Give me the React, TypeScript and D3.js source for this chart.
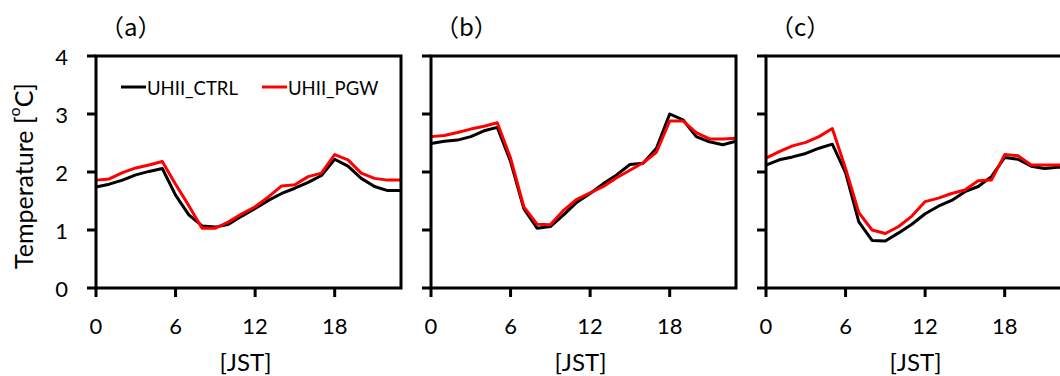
import React from 'react';
import * as d3 from 'd3';

// hourly UHI intensity (°C), JST 0..23
const hours = d3.range(0, 24);
const xTicks = [0, 6, 12, 18];
const yTicks = [0, 1, 2, 3, 4];

const ctrlA = [1.74, 1.79, 1.86, 1.95, 2.01, 2.06, 1.6, 1.26, 1.07, 1.05, 1.1, 1.24, 1.37, 1.51, 1.63, 1.72, 1.82, 1.94, 2.22, 2.1, 1.89, 1.75, 1.68, 1.68];
const pgwA = [1.86, 1.88, 1.99, 2.07, 2.12, 2.18, 1.79, 1.42, 1.03, 1.03, 1.14, 1.28, 1.4, 1.57, 1.76, 1.78, 1.92, 1.98, 2.3, 2.21, 1.98, 1.89, 1.86, 1.86];
const ctrlB = [2.49, 2.53, 2.55, 2.61, 2.71, 2.77, 2.18, 1.37, 1.03, 1.06, 1.26, 1.48, 1.63, 1.8, 1.95, 2.13, 2.15, 2.41, 3.0, 2.9, 2.61, 2.52, 2.47, 2.53];
const pgwB = [2.61, 2.63, 2.68, 2.74, 2.79, 2.85, 2.24, 1.4, 1.1, 1.09, 1.34, 1.53, 1.64, 1.75, 1.9, 2.03, 2.16, 2.34, 2.88, 2.88, 2.68, 2.57, 2.57, 2.58];
const ctrlC = [2.12, 2.21, 2.26, 2.32, 2.41, 2.48, 1.99, 1.14, 0.82, 0.81, 0.95, 1.1, 1.28, 1.41, 1.51, 1.66, 1.75, 1.92, 2.25, 2.22, 2.1, 2.06, 2.08, 2.08];
const pgwC = [2.24, 2.35, 2.45, 2.51, 2.61, 2.75, 2.06, 1.3, 1.0, 0.94, 1.06, 1.24, 1.49, 1.55, 1.63, 1.69, 1.85, 1.86, 2.3, 2.28, 2.12, 2.12, 2.12, 2.12];

const panels = [
  { label: 'a', ctrl: ctrlA, pgw: pgwA },
  { label: 'b', ctrl: ctrlB, pgw: pgwB },
  { label: 'c', ctrl: ctrlC, pgw: pgwC },
];

const W = 1060;
const H = 376;
const panelLeft = [96, 431, 766];
const panelW = 305;
const top = 56;
const bottom = 288;
const font = 'Lato, "Noto Sans", sans-serif';

export default function App() {
  const y = d3.scaleLinear().domain([0, 4]).range([bottom, top]);

  return (
    <svg width={W} height={H} style={{ position: 'fixed', left: 0, top: 0, background: '#fff' }} fontFamily={font}>
      <text transform={`translate(23,${(top + bottom) / 2 + 4}) rotate(-90)`} textAnchor="middle" dominantBaseline="central" fontSize={25}>
        Temperature [<tspan fontSize={16} dy={-10}>o</tspan><tspan dy={10}>C]</tspan>
      </text>
      {panels.map((p, i) => {
        const x0 = panelLeft[i];
        const x = d3.scaleLinear().domain([0, 23]).range([x0, x0 + panelW]);
        const line = d3.line<number>().x((_, j) => x(hours[j])).y(d => y(d));
        return (
          <g key={p.label}>
            <text x={x0 + 4} y={36} fontSize={24} fontFamily='"Noto Sans CJK JP", sans-serif'>
              （{p.label}）
            </text>
            {i === 0 && yTicks.map(t => (
              <text key={t} x={68} y={y(t)} textAnchor="end" dominantBaseline="central" fontSize={22}>{t}</text>
            ))}
            {yTicks.map(t => (
              <line key={t} x1={x0 - 9} x2={x0} y1={y(t)} y2={y(t)} stroke="#000" strokeWidth={3} />
            ))}
            {xTicks.map(t => (
              <g key={t}>
                <line x1={x(t)} x2={x(t)} y1={bottom} y2={bottom + 9} stroke="#000" strokeWidth={3} />
                <text x={x(t)} y={325} textAnchor="middle" dominantBaseline="central" fontSize={22}>{t}</text>
              </g>
            ))}
            <text x={x0 + panelW / 2 - 3} y={361} textAnchor="middle" dominantBaseline="central" fontSize={24}>[JST]</text>
            <path d={line(p.ctrl) ?? ''} fill="none" stroke="#000" strokeWidth={3} strokeLinejoin="round" />
            <path d={line(p.pgw) ?? ''} fill="none" stroke="#ff0000" strokeWidth={3} strokeLinejoin="round" />
            <rect x={x0} y={top} width={panelW} height={bottom - top} fill="none" stroke="#000" strokeWidth={3} />
            {i === 0 && (
              <g fontSize={18.5}>
                <line x1={121} x2={146} y1={87} y2={87} stroke="#000" strokeWidth={3} />
                <text x={147} y={88} dominantBaseline="central">UHII_CTRL</text>
                <line x1={262} x2={287} y1={87} y2={87} stroke="#ff0000" strokeWidth={3} />
                <text x={288} y={88} dominantBaseline="central">UHII_PGW</text>
              </g>
            )}
          </g>
        );
      })}
    </svg>
  );
}
